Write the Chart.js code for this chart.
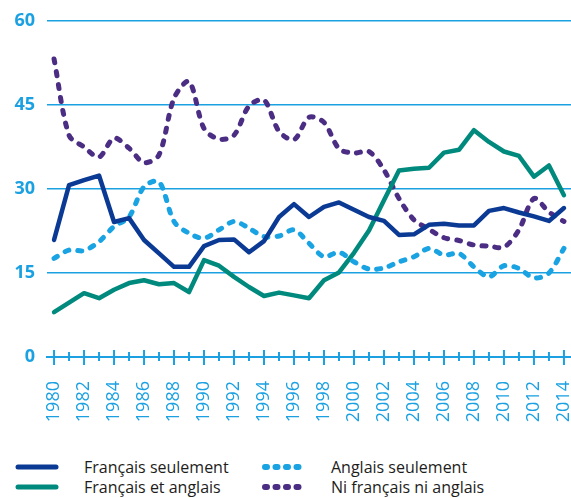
<!DOCTYPE html>
<html lang="fr">
<head>
    <meta charset="UTF-8">
    <title>Langues connues</title>
    <script src="https://cdn.jsdelivr.net/npm/chart.js"></script>
    <style>
        body { margin: 0; background: #fff; font-family: "Open Sans", sans-serif; }
        .wrap { position: relative; width: 571px; height: 498px; }
        #chart { position: absolute; left: 0; top: 0; }
        .legend { position: absolute; left: 15px; top: 457px; display: grid;
                  grid-template-columns: 247px auto; grid-auto-rows: 20px; }
        .legend .item { display: flex; align-items: center; }
        .legend span { margin-left: 25px; font-size: 16px; color: #1d1d1b; }
    </style>
</head>
<body>
    <div class="wrap">
        <canvas id="chart" width="571" height="440"></canvas>
        <div class="legend" id="legend"></div>
    </div>

    <script>
        const years = [1980, 1981, 1982, 1983, 1984, 1985, 1986, 1987, 1988, 1989,
                       1990, 1991, 1992, 1993, 1994, 1995, 1996, 1997, 1998, 1999,
                       2000, 2001, 2002, 2003, 2004, 2005, 2006, 2007, 2008, 2009,
                       2010, 2011, 2012, 2013, 2014];

        const francaisSeulement = [20.9, 30.7, 31.6, 32.4, 24.1, 24.8, 20.9, 18.5, 16.1, 16.1,
                                   19.8, 20.9, 21.0, 18.7, 20.7, 25.0, 27.3, 25.0, 26.8, 27.6,
                                   26.3, 25.0, 24.3, 21.8, 21.9, 23.6, 23.8, 23.5, 23.5, 26.1,
                                   26.6, 25.8, 25.1, 24.3, 26.6];
        const francaisEtAnglais = [8.0, 9.7, 11.4, 10.5, 12.0, 13.2, 13.7, 13.0, 13.2, 11.6,
                                   17.3, 16.3, 14.3, 12.5, 10.9, 11.5, 11.0, 10.5, 13.7, 15.1,
                                   18.6, 22.6, 28.0, 33.3, 33.6, 33.8, 36.5, 37.0, 40.5, 38.4,
                                   36.7, 35.9, 32.2, 34.2, 28.9];
        const anglaisSeulement = [17.6, 19.1, 19.0, 20.6, 23.3, 25.0, 30.4, 31.3, 24.2, 22.1,
                                  21.2, 22.7, 24.2, 23.0, 21.5, 21.6, 22.7, 20.3, 17.9, 18.7,
                                  17.0, 15.7, 15.9, 17.0, 17.9, 19.4, 18.2, 18.5, 16.1, 14.3,
                                  16.3, 15.8, 14.1, 15.0, 19.4];
        const niFrancaisNiAnglais = [53.2, 39.6, 37.5, 35.7, 39.1, 37.3, 34.7, 36.1, 46.2, 49.2,
                                     40.8, 38.9, 39.6, 44.8, 45.9, 40.3, 38.8, 42.8, 41.9, 37.2,
                                     36.4, 36.7, 33.4, 28.3, 24.5, 22.8, 21.3, 20.8, 20.0, 19.8,
                                     19.6, 22.7, 28.3, 25.9, 24.2];

        const yTicks = [0, 15, 30, 45, 60];
        const axisColor = '#1ba1e2';

        const series = [
            { label: 'Français seulement', data: francaisSeulement, color: '#0b3a94', dashed: false },
            { label: 'Anglais seulement', data: anglaisSeulement, color: '#19a3e3', dashed: true },
            { label: 'Français et anglais', data: francaisEtAnglais, color: '#008a7d', dashed: false },
            { label: 'Ni français ni anglais', data: niFrancaisNiAnglais, color: '#4b2e83', dashed: true }
        ];

        // ticks on the x axis: long ones on even years, short ones on odd years
        const axisTicks = {
            id: 'axisTicks',
            afterDraw(chart) {
                const { ctx, scales: { x, y } } = chart;
                const base = y.getPixelForValue(0);
                ctx.save();
                ctx.strokeStyle = axisColor;
                ctx.lineWidth = 2;
                x.ticks.forEach(t => {
                    const px = x.getPixelForValue(t.value);
                    const major = t.value % 2 === 0;
                    ctx.beginPath();
                    ctx.moveTo(px, base - (major ? 7 : 5));
                    ctx.lineTo(px, base + (major ? 8 : 4));
                    ctx.stroke();
                });
                ctx.restore();
            }
        };

        const ctx = document.getElementById('chart').getContext('2d');
        new Chart(ctx, {
            type: 'line',
            data: {
                datasets: series.map(s => ({
                    label: s.label,
                    data: years.map((yr, i) => ({ x: yr, y: s.data[i] })),
                    borderColor: s.color,
                    borderWidth: s.dashed ? 5 : 4.5,
                    borderDash: s.dashed ? [4, 9] : [],
                    borderCapStyle: 'round',
                    borderJoinStyle: 'round',
                    tension: s.dashed ? 0.3 : 0,
                    pointRadius: 0,
                    fill: false
                }))
            },
            options: {
                responsive: false,
                animation: false,
                layout: { padding: { top: 21, right: 0, left: 0, bottom: 0 } },
                plugins: {
                    legend: { display: false },
                    tooltip: { enabled: false }
                },
                scales: {
                    x: {
                        type: 'linear',
                        min: 1979.53,
                        max: 2014.47,
                        afterBuildTicks: s => { s.ticks = years.map(v => ({ value: v })); },
                        afterFit: s => { s.height = 83; s.paddingLeft = 0; s.paddingRight = 0; },
                        grid: { display: false, drawTicks: false },
                        border: { display: true, color: axisColor, width: 2 },
                        ticks: {
                            autoSkip: false,
                            minRotation: 90,
                            maxRotation: 90,
                            padding: 24,
                            color: axisColor,
                            font: { family: 'Open Sans', size: 18 },
                            callback: v => (v % 2 === 0 ? String(v) : '')
                        }
                    },
                    y: {
                        min: 0,
                        max: 60,
                        afterBuildTicks: s => { s.ticks = yTicks.map(v => ({ value: v })); },
                        afterFit: s => { s.width = 47; s.paddingTop = 0; s.paddingBottom = 0; },
                        grid: {
                            drawTicks: false,
                            lineWidth: 1.5,
                            color: c => (c.tick && c.tick.value === 0 ? 'rgba(0,0,0,0)' : axisColor)
                        },
                        border: { display: false },
                        ticks: {
                            padding: 12,
                            color: axisColor,
                            font: { family: 'Open Sans', size: 18, weight: 'bold' }
                        }
                    }
                }
            },
            plugins: [axisTicks]
        });

        // legend below the chart, two columns
        const legend = document.getElementById('legend');
        series.forEach(s => {
            const item = document.createElement('div');
            item.className = 'item';
            const dash = s.dashed ? 'stroke-dasharray="2 8.5"' : '';
            const w = s.dashed ? 6 : 5;
            item.innerHTML =
                `<svg width="44" height="10"><line x1="3" y1="5" x2="41" y2="5" stroke="${s.color}" ` +
                `stroke-width="${w}" stroke-linecap="round" ${dash}/></svg><span>${s.label}</span>`;
            legend.appendChild(item);
        });
    </script>
</body>
</html>
